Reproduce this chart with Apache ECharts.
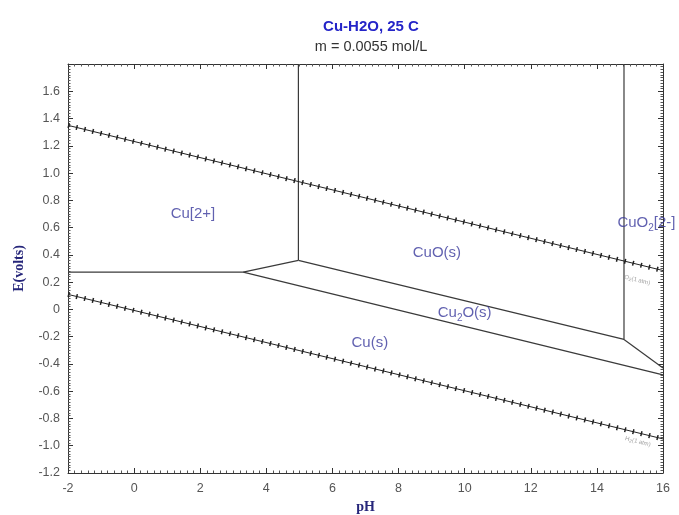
<!DOCTYPE html>
<html><head><meta charset="utf-8">
<script src="https://cdn.jsdelivr.net/npm/echarts@6/dist/echarts.min.js"></script>
<style>html,body{margin:0;padding:0;background:#fff}#c{width:679px;height:515px}</style>
</head><body><div id="c"></div>
<script>
// Axis settings
const xMin = -2, xMax = 16, xStep = 2;
const yMin = -1.2, yMax = 1.8, yStep = 0.2;

// Stability-field boundaries [pH, E]
const cu2_cu     = [[-2, 0.273], [3.3, 0.273]];
const cu2_cu2o   = [[3.3, 0.273], [4.97, 0.36]];
const cu2_cuo    = [[4.97, 0.36], [4.97, 1.8]];
const cuo_cu2o   = [[4.97, 0.36], [14.82, -0.22]];
const cuo_cuo2   = [[14.82, -0.22], [14.82, 1.8]];
const cuo2_cu2o  = [[14.82, -0.22], [16, -0.43]];
const cu2o_cu    = [[3.3, 0.273], [16, -0.48]];

// Water stability lines
const waterO2 = [[-2, 1.35], [16, 0.285]];
const waterH2 = [[-2, 0.11], [16, -0.95]];

// Region labels
const regionNames = ['Cu[2+]', 'CuO(s)', 'Cu{s|2}O(s)', 'Cu(s)', 'CuO{s|2}[2-]'];
const regionX = [1.78, 9.16, 10.0, 7.13, 15.5];
const regionY = [0.70, 0.413, -0.027, -0.247, 0.633];

// Gas labels
const gasNames = ['O{g|2}(1 atm)', 'H{g|2}(1 atm)'];
const gasX = [15.22, 15.24];
const gasY = [0.215, -0.97];

const chart = echarts.init(document.getElementById('c'), null, {renderer: 'canvas'});
const lineCol = '#3a3a3a';
function seg(d) {
  return {type: 'line', data: d, symbol: 'none', silent: true, animation: false,
    lineStyle: {color: lineCol, width: 1.2}, z: 3};
}
function water(d) {
  return [
    {type: 'line', data: d, symbol: 'none', animation: false, lineStyle: {color: '#222', width: 1}, z: 4},
    {type: 'line', data: d, symbol: 'none', animation: false, lineStyle: {color: '#222', width: 5, type: [1.5, 6.8]}, z: 4}
  ];
}
const axisCommon = {
  axisLine: {show: true, onZero: false, lineStyle: {color: '#333', width: 1}},
  axisTick: {show: true, inside: true, length: 5, lineStyle: {color: '#333'}},
  minorTick: {show: true, splitNumber: 10, length: 2.5, lineStyle: {color: '#555'}},
  splitLine: {show: false}
};
function fmtY(v) {
  if (v > 1.7) return '';
  if (Math.abs(v) < 1e-9) return '0';
  return v.toFixed(1);
}
const option = {
  backgroundColor: '#fff',
  animation: false,
  title: [
    {text: 'Cu-H2O, 25 C', left: 366, top: 14, textAlign: 'center',
     textStyle: {fontFamily: 'Liberation Sans', fontSize: 15, fontWeight: 'bold', color: '#2424c8'}},
    {text: 'm = 0.0055 mol/L', left: 366, top: 34, textAlign: 'center',
     textStyle: {fontFamily: 'Liberation Sans', fontSize: 14.5, fontWeight: 'normal', color: '#333'}}
  ],
  grid: {left: 68, right: 16, top: 64, bottom: 42, containLabel: false, outerBoundsMode: 'none'},
  xAxis: [
    Object.assign({}, axisCommon, {type: 'value', position: 'bottom', min: xMin, max: xMax, interval: xStep,
      name: 'pH', nameLocation: 'middle', nameGap: 27,
      nameTextStyle: {fontFamily: 'Liberation Serif', fontWeight: 'bold', fontSize: 14, color: '#26267a'},
      axisLabel: {show: true, fontFamily: 'Liberation Sans', fontSize: 12.5, color: '#555', margin: 9}}),
    Object.assign({}, axisCommon, {type: 'value', position: 'top', min: xMin, max: xMax, interval: xStep,
      axisLabel: {show: false}})
  ],
  yAxis: [
    Object.assign({}, axisCommon, {type: 'value', position: 'left', min: yMin, max: yMax, interval: yStep,
      name: 'E(volts)', nameLocation: 'middle', nameGap: 42, nameRotate: 90,
      nameTextStyle: {fontFamily: 'Liberation Serif', fontWeight: 'bold', fontSize: 14, color: '#26267a'},
      axisLabel: {show: true, fontFamily: 'Liberation Sans', fontSize: 12.5, color: '#555', margin: 8, formatter: fmtY}}),
    Object.assign({}, axisCommon, {type: 'value', position: 'right', min: yMin, max: yMax, interval: yStep,
      axisLabel: {show: false}})
  ],
  series: [
    seg(cu2_cu), seg(cu2_cu2o), seg(cu2_cuo), seg(cuo_cu2o), seg(cuo_cuo2), seg(cuo2_cu2o), seg(cu2o_cu),
    ...water(waterO2), ...water(waterH2),
    {type: 'scatter', symbolSize: 0, animation: false, silent: true, z: 6,
     data: regionX.map((x, i) => ({value: [x, regionY[i]], name: regionNames[i]})),
     label: {show: true, position: 'inside', formatter: p => p.name,
       fontFamily: 'Liberation Sans', fontSize: 15, color: '#3a3a9c',
       rich: {s: {fontFamily: 'Liberation Sans', fontSize: 10, color: '#3a3a9c', padding: [10, 0, 0, 0]}}}},
    {type: 'scatter', symbolSize: 0, animation: false, silent: true, z: 6,
     data: gasX.map((x, i) => ({value: [x, gasY[i]], name: gasNames[i]})),
     label: {show: true, position: 'inside', rotate: -14, formatter: p => p.name,
       fontFamily: 'Liberation Sans', fontSize: 6, color: '#888',
       rich: {g: {fontFamily: 'Liberation Sans', fontSize: 5, color: '#888', padding: [3, 0, 0, 0]}}}}
  ]
};
chart.setOption(option);
</script></body></html>
